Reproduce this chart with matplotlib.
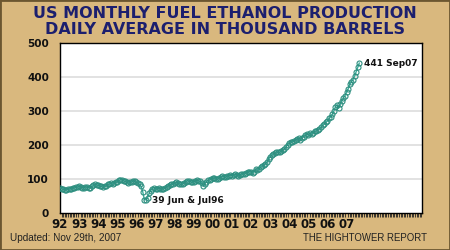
import matplotlib
matplotlib.use("Agg")
import matplotlib.pyplot as plt
import numpy as np
from matplotlib.patches import Rectangle

start_year = 1992
values = [
    75, 72, 70, 68, 69, 71, 70, 72, 74, 75, 76, 77,          # 1992
    78, 76, 74, 75, 76, 77, 75, 74, 78, 82, 84, 83,          # 1993
    82, 80, 78, 76, 78, 80, 84, 86, 87, 85, 88, 90,          # 1994
    92, 96, 98, 97, 95, 93, 90, 88, 90, 92, 94, 93,          # 1995
    90, 88, 84, 78, 62, 39, 39, 45, 58, 66, 72, 75,          # 1996
    70, 72, 74, 72, 70, 71, 74, 76, 80, 82, 84, 86,          # 1997
    88, 90, 87, 85, 84, 86, 88, 92, 95, 94, 92, 90,          # 1998
    92, 94, 96, 95, 93, 88, 80, 86, 92, 96, 98, 100,         # 1999
    102, 104, 101, 99, 103, 106, 108, 107, 105, 108, 110, 112,  # 2000
    110, 112, 114, 111, 109, 112, 114, 116, 115, 118, 120, 122,  # 2001
    120, 118, 122, 128, 126, 130, 135, 138, 140, 145, 150, 158,  # 2002
    165, 170, 174, 176, 178, 180, 178, 182, 185, 188, 195, 200,  # 2003
    205, 208, 210, 212, 214, 218, 220, 216, 222, 225, 228, 232,  # 2004
    230, 234, 232, 236, 240, 242, 245, 248, 252, 258, 262, 268,  # 2005
    270, 278, 282, 290, 300, 312, 318, 308, 320, 330, 338, 345,  # 2006
    355, 365, 378, 385, 392, 402, 415, 428, 441,                 # 2007
]
year_labels = ["92", "93", "94", "95", "96", "97", "98", "99", "00",
               "01", "02", "03", "04", "05", "06", "07"]
y_ticks = [0, 100, 200, 300, 400, 500]
low_index = 53  # Jun 1996

bg = "#D9B87E"
fig = plt.figure(figsize=(4.5, 2.5), dpi=100, facecolor=bg)
ax = fig.add_axes([60/450, 1-213/250, 362/450, 170/250])
ax.set_facecolor("white")

x = start_year + np.arange(len(values)) / 12.0
ax.plot(x, values, color="#3AAE9C", lw=1.0, marker="o", ms=3.6,
        mfc="none", mec="#2E8F80", mew=0.8, zorder=3)

ax.set_xlim(1992, 2010.95)
ax.set_ylim(0, 500)
ax.set_yticks(y_ticks)
ax.set_yticklabels([str(v) for v in y_ticks], fontsize=7.5, fontweight="bold",
                   color="#111111")
ax.tick_params(axis="y", length=0, pad=8)
for v in y_ticks[1:-1]:
    ax.axhline(v, color="#DDDDDD", lw=1.2, zorder=1)

years = [start_year + i for i in range(len(year_labels))]
ax.set_xticks(years)
ax.set_xticklabels(year_labels, fontsize=8.5, fontweight="bold", color="#111111")
ax.tick_params(axis="x", length=0, pad=3.5)
ax.set_xticks(np.arange(1992, 2010.95, 1/12), minor=True)
ax.tick_params(axis="x", which="minor", length=3, width=0.6, color="#222222",
               direction="out")
for s in ax.spines.values():
    s.set_color("black")
    s.set_linewidth(1.0)

ax.text(x[-1] + 0.25, values[-1], "441 Sep07", fontsize=6.5, fontweight="bold",
        va="center", ha="left", color="#111111")
ax.text(x[low_index] + 0.4, values[low_index] - 1, "39 Jun & Jul96", fontsize=6.5,
        fontweight="bold", va="center", ha="left", color="#111111")

fig.text(0.5, 1-13/250, "US MONTHLY FUEL ETHANOL PRODUCTION", ha="center",
         va="center", fontsize=11.5, fontweight="heavy", color="#1C1F6E")
fig.text(0.5, 1-30/250, "DAILY AVERAGE IN THOUSAND BARRELS", ha="center",
         va="center", fontsize=11.5, fontweight="heavy", color="#1C1F6E")

fig.text(10/450, 1-238/250, "Updated: Nov 29th, 2007", ha="left", va="center",
         fontsize=7.2, color="#222222", family="Liberation Sans")
fig.text(427/450, 1-238/250, "THE HIGHTOWER REPORT", ha="right", va="center",
         fontsize=6.9, color="#222222", family="Liberation Sans")

fig.patches.append(Rectangle((0, 0), 1, 1, transform=fig.transFigure,
                             fill=False, ec="#6B5630", lw=2.0))

fig.savefig("out.png", dpi=100, facecolor=bg)
